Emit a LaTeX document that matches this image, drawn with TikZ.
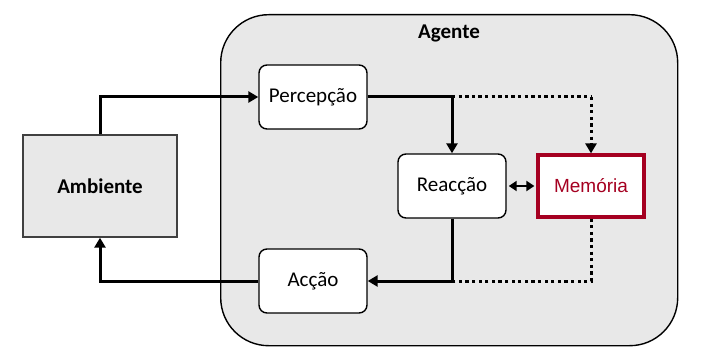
\documentclass[tikz,border=0pt]{standalone}
\usepackage{fontspec}
\setmainfont{Carlito}
\newfontfamily\memfont{Liberation Sans}
\usetikzlibrary{arrows.meta}
\definecolor{panel}{HTML}{E8E8E8}
\definecolor{memred}{HTML}{A50021}
\tikzset{
  txt/.style={font=\fontsize{21}{25}\selectfont},
  boldtxt/.style={font=\fontsize{21}{25}\selectfont\bfseries},
  stage/.style={txt, draw=black, line width=1.4pt, fill=white, rounded corners=8pt,
    minimum width=108pt, minimum height=64pt},
  flow/.style={line width=3pt, -{Triangle[length=10pt,width=11pt]}},
  plain/.style={line width=3pt},
  memflow/.style={line width=3pt, dash pattern=on 3.3pt off 3.3pt},
}
\begin{document}
\begin{tikzpicture}[x=1pt, y=-1pt]
  \useasboundingbox (0,0) rectangle (709,363);
  % agent container
  \node[draw=black, line width=1.4pt, fill=panel, rounded corners=48pt,
        minimum width=457pt, minimum height=331pt, anchor=north west] (agente) at (220,14) {};
  \node[boldtxt] (agentelbl) at (449,33) {Agente};
  % environment
  \node[boldtxt, draw=black!75, line width=1.4pt, fill=panel,
        minimum width=154pt, minimum height=102pt] (amb) at (100,186) {Ambiente};
  % inner stages
  \node[stage] (perc) at (313,97) {Percepção};
  \node[stage] (accao) at (313,281) {Acção};
  \node[stage] (reac) at (452,186) {Reacção};
  \node[font=\memfont\fontsize{19}{23}\selectfont, draw=memred, line width=3.2pt, fill=white,
        minimum width=106pt, minimum height=62pt, text=memred] (mem) at (591,186) {Memória};
  % junction points
  \coordinate (jtop) at (452,97);
  \coordinate (jbot) at (452,281);
  \coordinate (mtop) at (591,97);
  \coordinate (mbot) at (591,281);
  \coordinate (atop) at (100,97);
  \coordinate (abot) at (100,281);
  % environment <-> agent
  \draw[flow] (amb.north) -- (atop) -- (perc.west);
  \draw[flow] (accao.west) -- (abot) -- (amb.south);
  % perception -> reaction, reaction -> action
  \draw[plain] (perc.east) -- (jtop);
  \draw[flow] (jtop) -- (reac.north);
  \draw[flow] (reac.south) -- (jbot) -- (accao.east);
  % memory paths
  \draw[memflow] (jtop) -- (mtop);
  \draw[memflow, -{Triangle[length=10pt,width=11pt]}] (mtop) -- (mem.north);
  \draw[memflow] (mem.south) -- (mbot) -- (jbot);
  % reaction <-> memory
  \draw[line width=2.4pt, {Triangle[length=8pt,width=10pt]}-{Triangle[length=8pt,width=10pt]}]
    ([xshift=2pt]reac.east) -- ([xshift=-2pt]mem.west);
\end{tikzpicture}
\end{document}
